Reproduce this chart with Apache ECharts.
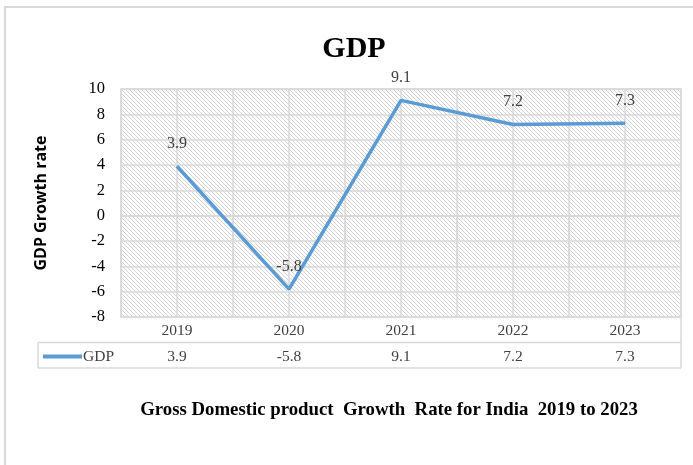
<!DOCTYPE html>
<html>
<head>
<meta charset="utf-8">
<script src="https://cdn.jsdelivr.net/npm/echarts@6/dist/echarts.min.js"></script>
<style>html,body{margin:0;padding:0;background:#fff}#c{width:693px;height:465px}</style>
</head>
<body>
<div id="c"></div>
<script>
const years = ['2019', '2020', '2021', '2022', '2023'];
const gdp = [3.9, -5.8, 9.1, 7.2, 7.3];
const yTicks = { min: -8, max: 10, interval: 2 };
const seriesName = 'GDP';

// hatch pattern
const tile = document.createElement('canvas');
tile.width = 4; tile.height = 4;
const tc = tile.getContext('2d');
tc.fillStyle = '#ffffff'; tc.fillRect(0, 0, 4, 4);
tc.fillStyle = '#d2d2d2';
for (let i = 0; i < 4; i++) tc.fillRect(i, i, 1, 1);

const G = { left: 121, top: 89, width: 560, height: 228 };
const rowH = 25.5;
const tableLeft = 38;
const gridLine = '#d9d9d9';
const serif = '"Liberation Serif", "Times New Roman", serif';
const row1Bottom = G.top + G.height + rowH;
const row2Bottom = row1Bottom + rowH;

const chart = echarts.init(document.getElementById('c'));
chart.setOption({
  animation: false,
  backgroundColor: '#fff',
  title: [
    { text: 'GDP', left: 349, top: 29, textAlign: 'center',
      textStyle: { fontFamily: serif, fontWeight: 'bold', fontSize: 30, color: '#000' } },
    { text: 'Gross Domestic product  Growth  Rate for India  2019 to 2023', left: 384, top: 396, textAlign: 'center',
      textStyle: { fontFamily: serif, fontWeight: 'bold', fontSize: 18.8, color: '#000' } }
  ],
  legend: {
    left: 43, top: row1Bottom + 6, padding: 0, icon: 'rect', itemWidth: 39, itemHeight: 4, itemGap: 0,
    textStyle: { fontFamily: serif, fontSize: 15.5, color: '#404040', padding: [0, 0, 0, -4] },
    data: [seriesName]
  },
  grid: Object.assign({ show: true, backgroundColor: { image: tile, repeat: 'repeat' }, borderColor: gridLine, borderWidth: 1.5 }, G),
  xAxis: [
    { type: 'category', data: years, boundaryGap: true, position: 'bottom',
      axisLine: { show: true, lineStyle: { color: gridLine, width: 1.5 } },
      axisTick: { show: true, length: rowH * 2, lineStyle: { color: gridLine, width: 1.5 } },
      axisLabel: { fontFamily: serif, fontSize: 15.5, color: '#404040', margin: 6 },
      splitLine: { show: false } },
    { type: 'category', data: gdp.map(v => String(v)), boundaryGap: true, position: 'bottom', offset: rowH,
      axisLine: { show: false }, axisTick: { show: false },
      axisLabel: { fontFamily: serif, fontSize: 15.5, color: '#404040', margin: 6 },
      splitLine: { show: false } },
    { type: 'value', min: 0, max: years.length * 2, interval: 1, position: 'top',
      axisLine: { show: false }, axisTick: { show: false }, axisLabel: { show: false },
      splitLine: { show: true, lineStyle: { color: gridLine, width: 1.5 } } }
  ],
  yAxis: {
    type: 'value', min: yTicks.min, max: yTicks.max, interval: yTicks.interval,
    name: 'GDP Growth rate', nameLocation: 'middle', nameRotate: 90, nameGap: 72,
    nameTextStyle: { fontFamily: '"Open Sans", sans-serif', fontWeight: 'bold', fontSize: 16, color: '#000' },
    axisLine: { show: false }, axisTick: { show: false },
    axisLabel: { fontFamily: serif, fontSize: 16.5, color: '#000', margin: 16 },
    splitLine: { show: true, lineStyle: { color: gridLine, width: 1.5 } }
  },
  graphic: [
    { type: 'rect', shape: { x: 5, y: 7, width: 720, height: 480 }, style: { fill: 'none', stroke: '#d9d9d9', lineWidth: 2 }, silent: true },
    { type: 'line', shape: { x1: tableLeft, y1: row1Bottom, x2: G.left + G.width, y2: row1Bottom }, style: { stroke: gridLine, lineWidth: 1.5 } },
    { type: 'line', shape: { x1: tableLeft, y1: row2Bottom, x2: G.left + G.width, y2: row2Bottom }, style: { stroke: gridLine, lineWidth: 1.5 } },
    { type: 'line', shape: { x1: tableLeft, y1: row1Bottom, x2: tableLeft, y2: row2Bottom }, style: { stroke: gridLine, lineWidth: 1.5 } },
    { type: 'line', shape: { x1: G.left + G.width, y1: G.top + G.height, x2: G.left + G.width, y2: row2Bottom }, style: { stroke: gridLine, lineWidth: 1.5 } }
  ],
  series: [{
    name: seriesName, type: 'line', data: gdp, xAxisIndex: 0,
    symbol: 'circle', symbolSize: 1, showSymbol: true,
    lineStyle: { color: '#5b9bd5', width: 3.5 }, itemStyle: { color: '#5b9bd5' },
    label: { show: true, position: 'top', distance: 14, fontFamily: serif, fontSize: 16, color: '#404040' }
  }]
});
</script>
</body>
</html>
